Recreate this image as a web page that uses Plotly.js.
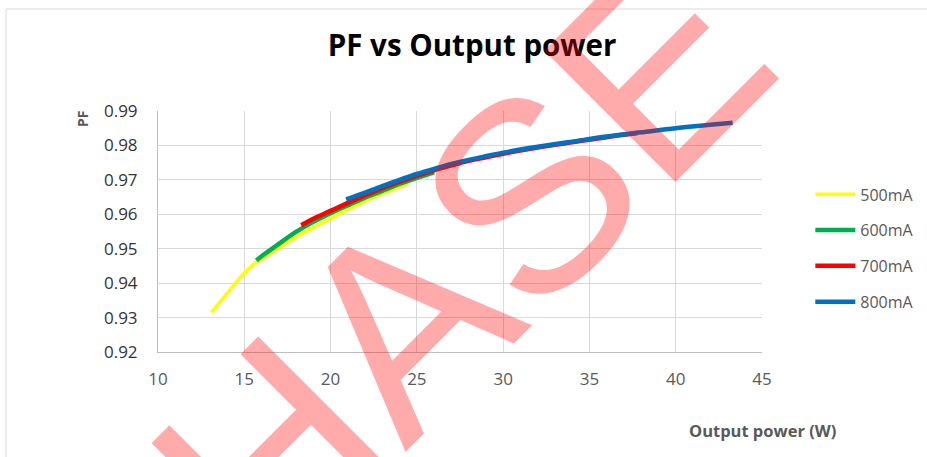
<!DOCTYPE html>
<html>
<head>
<meta charset="utf-8">
<script src="https://cdn.plot.ly/plotly-3.0.1.min.js"></script>
<style>html,body{margin:0;padding:0;background:#fff;}#chart{width:927px;height:457px;}</style>
</head>
<body>
<div id="chart"></div>
<script>
// ---- data ----
const seriesNames = ["500mA", "600mA", "700mA", "800mA"];
const seriesColors = ["#FFFF00", "#00B050", "#FF0000", "#0070C0"];

const power500 = [13.1, 14, 14.9, 15.6, 16, 17, 18, 19, 20, 21, 22, 23, 24, 24.5];
const pf500    = [0.9315, 0.9370, 0.9424, 0.9457, 0.9469, 0.9502, 0.9534, 0.9562, 0.9588, 0.9614, 0.9638, 0.9660, 0.9680, 0.9689];

const power600 = [15.7, 16, 17, 18, 19, 20, 21, 22, 23, 24, 25, 26];
const pf600    = [0.9466, 0.9478, 0.9514, 0.9549, 0.9578, 0.9603, 0.9626, 0.9648, 0.9668, 0.9688, 0.9706, 0.9722];

const power700 = [18.3, 19, 20, 21, 22, 23, 24, 25, 26, 27, 28, 30, 32, 34, 36, 37.8];
const pf700    = [0.9568, 0.9587, 0.9610, 0.9633, 0.9655, 0.9676, 0.9695, 0.9712, 0.9728, 0.9742, 0.9755, 0.9776, 0.9794, 0.9809, 0.9824, 0.9836];

const power800 = [20.9, 22, 23, 24, 25, 26, 27, 28, 29, 30, 32, 34, 36, 38, 40, 42, 43.3];
const pf800    = [0.9643, 0.9663, 0.9682, 0.9700, 0.9717, 0.9732, 0.9746, 0.9758, 0.9769, 0.9779, 0.9796, 0.9811, 0.9826, 0.9838, 0.9850, 0.9860, 0.9866];

const xTicks = [10, 15, 20, 25, 30, 35, 40, 45];
const yTicks = [0.92, 0.93, 0.94, 0.95, 0.96, 0.97, 0.98, 0.99];

const chartTitle = "PF vs Output power";
const xTitle = "Output power (W)";
const yTitle = "PF";
const watermark = "PHASE";

// ---- traces ----
const xs = [power500, power600, power700, power800];
const ys = [pf500, pf600, pf700, pf800];
const widths = [3.5, 4.5, 4.5, 4.5];
const traces = seriesNames.map((n, i) => ({
  type: "scatter",
  mode: "lines",
  name: n,
  x: xs[i],
  y: ys[i],
  legendgroup: "g" + i,
  line: {color: seriesColors[i], width: widths[i], shape: "spline", smoothing: 1},
  hoverinfo: "skip"
}));

const font = "'Open Sans', 'DejaVu Sans', sans-serif";

const layout = {
  width: 927,
  height: 457,
  margin: {l: 158, r: 165, t: 111, b: 105, pad: 0, autoexpand: false},
  paper_bgcolor: "#ffffff",
  plot_bgcolor: "#ffffff",
  font: {family: font, color: "#595959"},
  hovermode: false,
  title: {
    text: "<b>" + chartTitle + "</b>",
    font: {family: font, size: 29.5, color: "#000000"},
    x: 0.52, xref: "paper", xanchor: "center",
    y: 1 - 46 / 457, yref: "container", yanchor: "middle"
  },
  xaxis: {
    range: [10, 45],
    tickvals: xTicks,
    ticktext: xTicks.map(String),
    showgrid: true, gridcolor: "#d9d9d9", gridwidth: 1,
    showline: true, linecolor: "#bfbfbf", linewidth: 1,
    zeroline: false, ticks: "",
    ticklabelstandoff: 12,
    tickfont: {family: font, size: 17, color: "#595959"},
    fixedrange: true
  },
  yaxis: {
    range: [0.92, 0.99],
    tickvals: yTicks,
    ticktext: yTicks.map(v => v.toFixed(2)),
    showgrid: true, gridcolor: "#d9d9d9", gridwidth: 1,
    showline: true, linecolor: "#bfbfbf", linewidth: 1,
    zeroline: false, ticks: "",
    ticklabelstandoff: 16,
    tickfont: {family: font, size: 17, color: "#333333"},
    fixedrange: true
  },
  legend: {
    x: 1.080, xanchor: "left",
    y: 0.43, yanchor: "middle",
    traceorder: "grouped",
    tracegroupgap: 12,
    itemwidth: 40,
    font: {family: font, size: 16, color: "#595959"},
    bgcolor: "rgba(0,0,0,0)"
  },
  shapes: [{
    type: "rect", xref: "paper", yref: "paper",
    x0: -152 / 604, x1: 1.3, y0: -0.46, y1: 1 + 102 / 241,
    line: {color: "#d9d9d9", width: 1}, fillcolor: "rgba(0,0,0,0)", layer: "below"
  }],
  annotations: [
    {
      text: "<b>" + yTitle + "</b>", xref: "paper", yref: "paper",
      x: (82 - 158) / 604, y: 1 - (119 - 111) / 241,
      xanchor: "center", yanchor: "middle", textangle: -90, showarrow: false,
      font: {family: font, size: 14, color: "#595959"}
    },
    {
      text: "<b>" + xTitle + "</b>", xref: "paper", yref: "paper",
      x: (762 - 158) / 604, y: -(430 - 352) / 241,
      xanchor: "center", yanchor: "middle", showarrow: false,
      font: {family: font, size: 16.5, color: "#595959"}
    },
    {
      text: watermark, xref: "x", yref: "y",
      x: 23.9, y: 0.9270,
      xanchor: "center", yanchor: "middle", textangle: -45, showarrow: false,
      font: {family: "'Liberation Sans', Arial, sans-serif", size: 270, color: "rgba(255,0,0,0.33)"}
    }
  ]
};

Plotly.newPlot("chart", traces, layout, {staticPlot: true, displayModeBar: false});
</script>
</body>
</html>
